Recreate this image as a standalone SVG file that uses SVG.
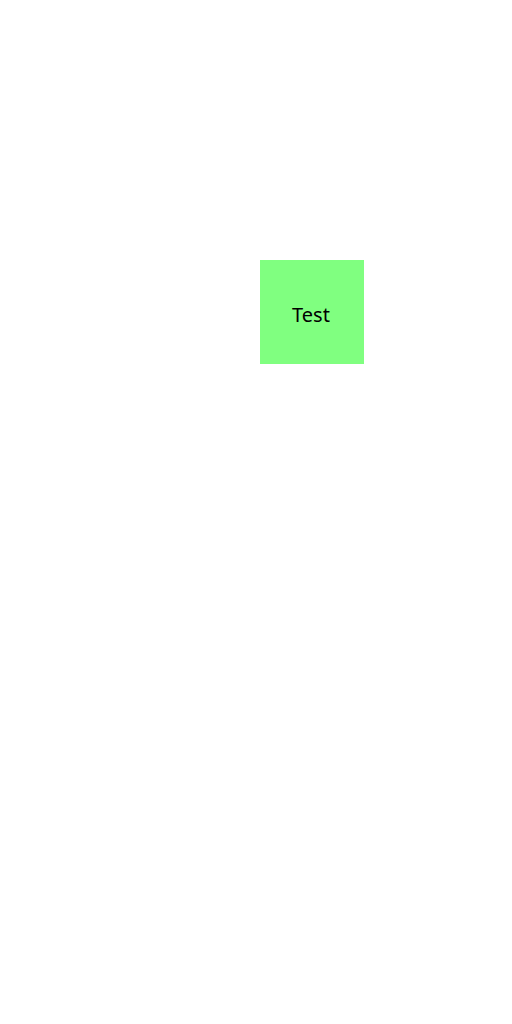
<svg xmlns="http://www.w3.org/2000/svg" width="512" height="1024" viewBox="0 0 512 1024">
<style>
.node rect{fill:#80ff80;stroke:none}
.node text{font-family:"Noto Sans","DejaVu Sans",sans-serif;font-size:20px;fill:#000;text-anchor:middle}
</style>
<rect width="512" height="1024" fill="#ffffff"/>
<g id="connectors"></g>
<g id="node-test" class="node">
<rect x="260" y="260" width="104" height="104"/>
<text x="311" y="322">Test</text>
</g>
</svg>
